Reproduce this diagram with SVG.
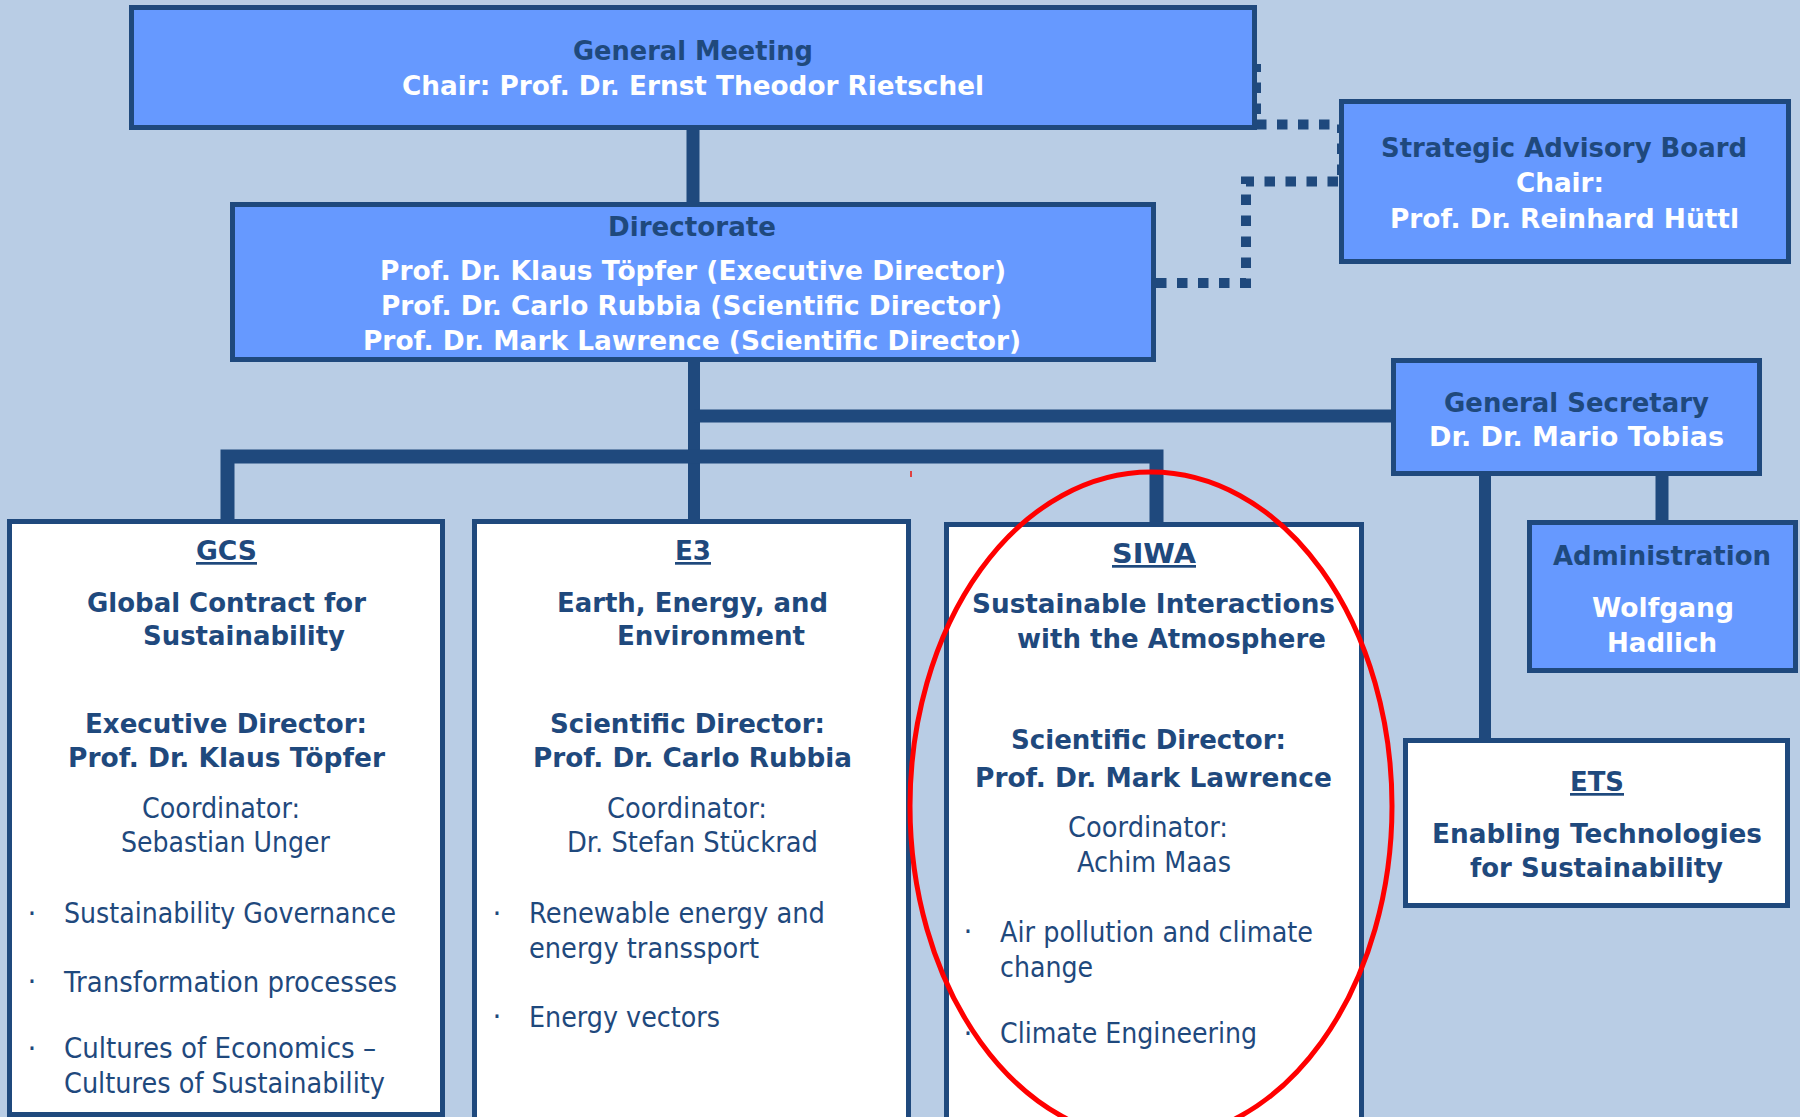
<svg xmlns="http://www.w3.org/2000/svg" width="1800" height="1117" viewBox="0 0 1800 1117">
<style>
.bg{fill:#B9CDE5}
.nb{fill:#6699FF;stroke:#1F497D;stroke-width:5}
.wb{fill:#FFFFFF;stroke:#1F497D;stroke-width:5}
.t{font-family:"DejaVu Sans","Liberation Sans",sans-serif;font-size:27px;font-weight:bold}
.r{font-family:"DejaVu Sans","Liberation Sans",sans-serif;font-size:28px;font-weight:normal;fill:#1F497D}
.d{fill:#1F497D}
.w{fill:#FFFFFF}
.m{text-anchor:middle}
.u{text-decoration:underline}
.sol{fill:none;stroke:#1F497D;stroke-linejoin:miter;stroke-linecap:butt}
.dot{fill:none;stroke:#1F497D;stroke-width:10;stroke-dasharray:10.5 10.5}
</style>
<rect class="bg" x="0" y="0" width="1800" height="1117"/>

<g id="connectors">
<line class="sol" x1="693" y1="128" x2="693" y2="204" stroke-width="13"/>
<line class="sol" x1="694" y1="360" x2="694" y2="522" stroke-width="12"/>
<line class="sol" x1="694" y1="416" x2="1393" y2="416" stroke-width="13"/>
<path class="sol" d="M227.5,521 V456.5 H1156.5 V524" stroke-width="14"/>
<line class="sol" x1="1662" y1="474" x2="1662" y2="522" stroke-width="13"/>
<line class="sol" x1="1485" y1="474" x2="1485" y2="740" stroke-width="12"/>
<path class="dot" d="M1156,283 H1246 V181.5 H1342 V124.5 H1256 V64"/>
</g>

<g id="general-meeting">
<rect class="nb" x="131.5" y="7.5" width="1123" height="120"/>
<text class="t d m" x="693" y="60" textLength="240" lengthAdjust="spacingAndGlyphs">General Meeting</text>
<text class="t w m" x="693" y="95" textLength="582" lengthAdjust="spacingAndGlyphs">Chair: Prof. Dr. Ernst Theodor Rietschel</text>
</g>

<g id="directorate">
<rect class="nb" x="232.5" y="204.5" width="921" height="155"/>
<text class="t d m" x="692" y="236" textLength="168" lengthAdjust="spacingAndGlyphs">Directorate</text>
<text class="t w m" x="693" y="280" textLength="626" lengthAdjust="spacingAndGlyphs">Prof. Dr. Klaus Töpfer (Executive Director)</text>
<text class="t w m" x="691.5" y="315" textLength="621" lengthAdjust="spacingAndGlyphs">Prof. Dr. Carlo Rubbia (Scientific Director)</text>
<text class="t w m" x="692" y="350" textLength="658" lengthAdjust="spacingAndGlyphs">Prof. Dr. Mark Lawrence (Scientific Director)</text>
</g>

<g id="strategic-advisory-board">
<rect class="nb" x="1341.5" y="101.5" width="447" height="160"/>
<text class="t d m" x="1564" y="157" textLength="366" lengthAdjust="spacingAndGlyphs">Strategic Advisory Board</text>
<text class="t w m" x="1560" y="192" textLength="88" lengthAdjust="spacingAndGlyphs">Chair:</text>
<text class="t w m" x="1564.5" y="228" textLength="349" lengthAdjust="spacingAndGlyphs">Prof. Dr. Reinhard Hüttl</text>
</g>

<g id="general-secretary">
<rect class="nb" x="1393.5" y="360.5" width="366" height="113"/>
<text class="t d m" x="1576.5" y="412" textLength="265" lengthAdjust="spacingAndGlyphs">General Secretary</text>
<text class="t w m" x="1576.5" y="446" textLength="295" lengthAdjust="spacingAndGlyphs">Dr. Dr. Mario Tobias</text>
</g>

<g id="administration">
<rect class="nb" x="1529.5" y="522.5" width="266" height="148"/>
<text class="t d m" x="1662" y="565" textLength="218" lengthAdjust="spacingAndGlyphs">Administration</text>
<text class="t w m" x="1663" y="617" textLength="142" lengthAdjust="spacingAndGlyphs">Wolfgang</text>
<text class="t w m" x="1662" y="652" textLength="110" lengthAdjust="spacingAndGlyphs">Hadlich</text>
</g>

<g id="ets">
<rect class="wb" x="1405.5" y="740.5" width="382" height="165"/>
<text class="t d m u" x="1597" y="791" textLength="54" lengthAdjust="spacingAndGlyphs">ETS</text>
<text class="t d m" x="1597" y="843" textLength="330" lengthAdjust="spacingAndGlyphs">Enabling Technologies</text>
<text class="t d m" x="1596.5" y="877" textLength="253" lengthAdjust="spacingAndGlyphs">for Sustainability</text>
</g>

<g id="gcs">
<rect class="wb" x="9.5" y="521.5" width="433" height="593"/>
<text class="t d m u" x="226.5" y="560" textLength="61" lengthAdjust="spacingAndGlyphs">GCS</text>
<text class="t d m" x="226.5" y="612" textLength="279" lengthAdjust="spacingAndGlyphs">Global Contract for</text>
<text class="t d m" x="244" y="645" textLength="202" lengthAdjust="spacingAndGlyphs">Sustainability</text>
<text class="t d m" x="226" y="733" textLength="282" lengthAdjust="spacingAndGlyphs">Executive Director:</text>
<text class="t d m" x="226.5" y="767" textLength="317" lengthAdjust="spacingAndGlyphs">Prof. Dr. Klaus Töpfer</text>
<text class="r m" x="221" y="818" textLength="158" lengthAdjust="spacingAndGlyphs">Coordinator:</text>
<text class="r m" x="225.5" y="852" textLength="209" lengthAdjust="spacingAndGlyphs">Sebastian Unger</text>
<text class="r m" x="32" y="923">·</text>
<text class="r" x="64" y="923" textLength="332" lengthAdjust="spacingAndGlyphs">Sustainability Governance</text>
<text class="r m" x="32" y="991">·</text>
<text class="r" x="64" y="992" textLength="333" lengthAdjust="spacingAndGlyphs">Transformation processes</text>
<text class="r m" x="32" y="1058">·</text>
<text class="r" x="64" y="1058" textLength="312" lengthAdjust="spacingAndGlyphs">Cultures of Economics –</text>
<text class="r" x="64" y="1093" textLength="321" lengthAdjust="spacingAndGlyphs">Cultures of Sustainability</text>
</g>

<g id="e3">
<rect class="wb" x="474.5" y="521.5" width="434" height="598"/>
<text class="t d m u" x="693" y="560" textLength="36" lengthAdjust="spacingAndGlyphs">E3</text>
<text class="t d m" x="692.5" y="612" textLength="271" lengthAdjust="spacingAndGlyphs">Earth, Energy, and</text>
<text class="t d m" x="711" y="645" textLength="188" lengthAdjust="spacingAndGlyphs">Environment</text>
<text class="t d m" x="687.5" y="733" textLength="275" lengthAdjust="spacingAndGlyphs">Scientific Director:</text>
<text class="t d m" x="692.5" y="767" textLength="319" lengthAdjust="spacingAndGlyphs">Prof. Dr. Carlo Rubbia</text>
<text class="r m" x="687" y="818" textLength="160" lengthAdjust="spacingAndGlyphs">Coordinator:</text>
<text class="r m" x="692.5" y="852" textLength="251" lengthAdjust="spacingAndGlyphs">Dr. Stefan Stückrad</text>
<text class="r m" x="497" y="923">·</text>
<text class="r" x="529" y="923" textLength="296" lengthAdjust="spacingAndGlyphs">Renewable energy and</text>
<text class="r" x="529" y="958" textLength="230" lengthAdjust="spacingAndGlyphs">energy transsport</text>
<text class="r m" x="497" y="1026">·</text>
<text class="r" x="529" y="1027" textLength="191" lengthAdjust="spacingAndGlyphs">Energy vectors</text>
</g>

<g id="siwa">
<rect class="wb" x="946.5" y="524.5" width="415" height="620"/>
<text class="t d m u" x="1154" y="563" textLength="84" lengthAdjust="spacingAndGlyphs">SIWA</text>
<text class="t d m" x="1153.5" y="613" textLength="363" lengthAdjust="spacingAndGlyphs">Sustainable Interactions</text>
<text class="t d m" x="1171.5" y="648" textLength="309" lengthAdjust="spacingAndGlyphs">with the Atmosphere</text>
<text class="t d m" x="1148.5" y="749" textLength="275" lengthAdjust="spacingAndGlyphs">Scientific Director:</text>
<text class="t d m" x="1153.5" y="787" textLength="357" lengthAdjust="spacingAndGlyphs">Prof. Dr. Mark Lawrence</text>
<text class="r m" x="1148" y="837" textLength="160" lengthAdjust="spacingAndGlyphs">Coordinator:</text>
<text class="r m" x="1154" y="872" textLength="154" lengthAdjust="spacingAndGlyphs">Achim Maas</text>
<text class="r m" x="968" y="941">·</text>
<text class="r" x="1000" y="942" textLength="313" lengthAdjust="spacingAndGlyphs">Air pollution and climate</text>
<text class="r" x="1000" y="977" textLength="93" lengthAdjust="spacingAndGlyphs">change</text>
<text class="r m" x="968" y="1043">·</text>
<text class="r" x="1000" y="1043" textLength="257" lengthAdjust="spacingAndGlyphs">Climate Engineering</text>
</g>

<g id="highlight">
<ellipse cx="1151" cy="806" rx="241" ry="334" fill="none" stroke="#FF0000" stroke-width="5"/>
<rect x="910" y="471" width="2" height="6" fill="#E04040"/>
</g>
</svg>
